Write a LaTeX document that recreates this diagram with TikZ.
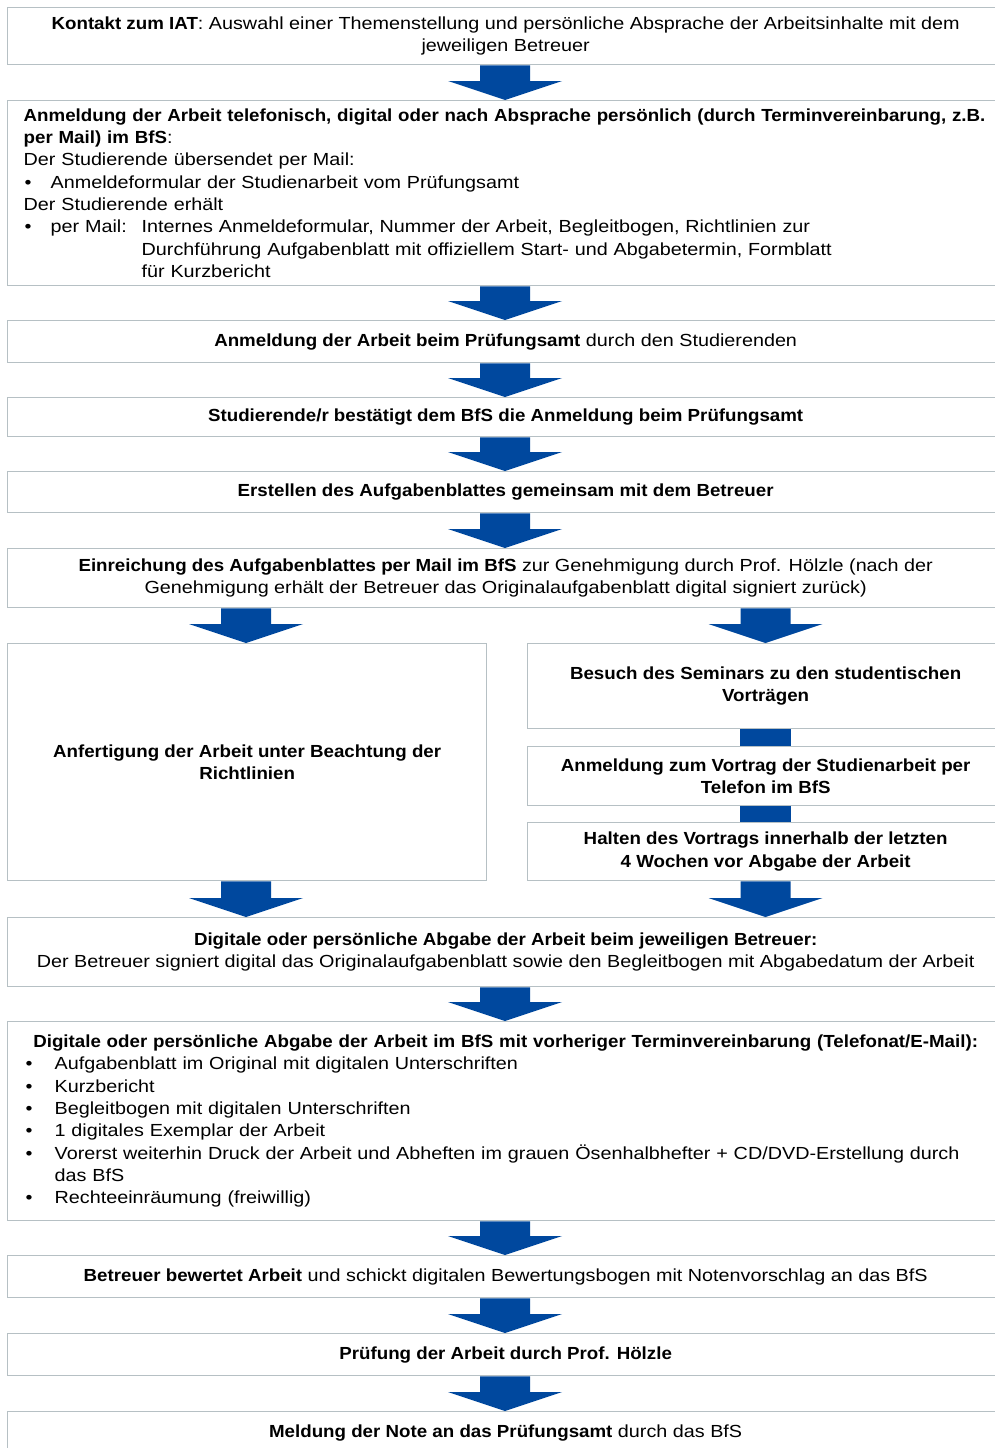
\documentclass[tikz,border=0pt]{standalone}
\usepackage{fontspec}
\setmainfont{Liberation Sans}[FakeStretch=1.13, BoldFeatures={FakeStretch=1.07}]
\usetikzlibrary{calc}
\definecolor{arrowblue}{RGB}{0,72,158}
\definecolor{boxline}{RGB}{182,192,196}
\newcommand\bul{\makebox[27pt][l]{\hspace{1pt}•}}
\newcommand\bulb{\makebox[31pt][l]{\hspace{2pt}•}}
\newcommand\bigarrow[3]{%
  \fill[arrowblue] let \p1=(#1.south), \p2=(#2.north) in
   ({#3pt-25pt},\y1) -- ({#3pt+25pt},\y1) -- ({#3pt+25pt},\y2+19pt) -- ({#3pt+57pt},\y2+19pt)
   -- (#3pt,\y2) -- ({#3pt-57pt},\y2+19pt) -- ({#3pt-25pt},\y2+19pt) -- cycle;}
\newcommand\shaft[3]{%
  \fill[arrowblue] let \p1=(#1.south), \p2=(#2.north) in
   ({#3pt-25.5pt},\y1) rectangle ({#3pt+25.5pt},\y2);}
\begin{document}
\begin{tikzpicture}[x=1pt,y=-1pt,
  box/.style={draw=boxline, line width=1.3pt, anchor=north west, inner sep=0pt,
    align=center, font=\fontsize{17.5}{22.3}\selectfont},
  lbox/.style={box, align=left, text width=964pt, inner xsep=16pt}]
\clip (0,0) rectangle (995,1448);
\fill[white] (0,0) rectangle (995,1448);

\node[box, minimum width=996pt, minimum height=57pt] (b1) at (7,7)
 {\textbf{Kontakt zum IAT}: Auswahl einer Themenstellung und persönliche Absprache der Arbeitsinhalte mit dem\\jeweiligen Betreuer};

\node[lbox, minimum width=996pt, minimum height=185pt] (b2) at (7,100)
 {\textbf{Anmeldung der Arbeit telefonisch, digital oder nach Absprache persönlich (durch Terminvereinbarung, z.B.}\\
  \textbf{per Mail) im BfS}:\\
  Der Studierende übersendet per Mail:\\
  \bul Anmeldeformular der Studienarbeit vom Prüfungsamt\\
  Der Studierende erhält\\
  \bul\makebox[91pt][l]{per Mail:}Internes Anmeldeformular, Nummer der Arbeit, Begleitbogen, Richtlinien zur\\
  \hspace*{118pt}Durchführung Aufgabenblatt mit offiziellem Start- und Abgabetermin, Formblatt\\
  \hspace*{118pt}für Kurzbericht};

\node[box, minimum width=996pt, minimum height=42pt] (b3) at (7,320)
 {\textbf{Anmeldung der Arbeit beim Prüfungsamt} durch den Studierenden};

\node[box, minimum width=996pt, minimum height=39pt] (b4) at (7,397)
 {\textbf{Studierende/r bestätigt dem BfS die Anmeldung beim Prüfungsamt}};

\node[box, minimum width=996pt, minimum height=41pt] (b5) at (7,471)
 {\textbf{Erstellen des Aufgabenblattes gemeinsam mit dem Betreuer}};

\node[box, minimum width=996pt, minimum height=59pt] (b6) at (7,548)
 {\textbf{Einreichung des Aufgabenblattes per Mail im BfS} zur Genehmigung durch Prof. Hölzle (nach der\\Genehmigung erhält der Betreuer das Originalaufgabenblatt digital signiert zurück)};

\node[box, minimum width=479pt, minimum height=237pt] (bl) at (7,643)
 {\textbf{Anfertigung der Arbeit unter Beachtung der}\\\textbf{Richtlinien}};

\node[box, minimum width=476pt, minimum height=85pt] (br1) at (527,643)
 {\textbf{Besuch des Seminars zu den studentischen}\\\textbf{Vorträgen}};

\node[box, minimum width=476pt, minimum height=59pt] (br2) at (527,746)
 {\textbf{Anmeldung zum Vortrag der Studienarbeit per}\\\textbf{Telefon im BfS}};

\node[box, minimum width=476pt, minimum height=58pt] (br3) at (527,822)
 {\textbf{Halten des Vortrags innerhalb der letzten}\\\textbf{4 Wochen vor Abgabe der Arbeit}};

\node[box, minimum width=996pt, minimum height=69pt] (b7) at (7,917)
 {\textbf{Digitale oder persönliche Abgabe der Arbeit beim jeweiligen Betreuer:}\\Der Betreuer signiert digital das Originalaufgabenblatt sowie den Begleitbogen mit Abgabedatum der Arbeit};

\node[lbox, minimum width=996pt, minimum height=199pt] (b8) at (7,1021)
 {\makebox[964pt][c]{\textbf{Digitale oder persönliche Abgabe der Arbeit im BfS mit vorheriger Terminvereinbarung (Telefonat/E-Mail):}}\\
  \bulb Aufgabenblatt im Original mit digitalen Unterschriften\\
  \bulb Kurzbericht\\
  \bulb Begleitbogen mit digitalen Unterschriften\\
  \bulb 1 digitales Exemplar der Arbeit\\
  \bulb Vorerst weiterhin Druck der Arbeit und Abheften im grauen Ösenhalbhefter + CD/DVD-Erstellung durch\\
  \hspace*{31pt}das BfS\\
  \bulb Rechteeinräumung (freiwillig)};

\node[box, minimum width=996pt, minimum height=42pt] (b9) at (7,1255)
 {\textbf{Betreuer bewertet Arbeit} und schickt digitalen Bewertungsbogen mit Notenvorschlag an das BfS};

\node[box, minimum width=996pt, minimum height=42pt] (b10) at (7,1333)
 {\textbf{Prüfung der Arbeit durch Prof. Hölzle}};

\node[box, minimum width=996pt, minimum height=42pt] (b11) at (7,1411)
 {\textbf{Meldung der Note an das Prüfungsamt} durch das BfS};

\bigarrow{b1}{b2}{505}
\bigarrow{b2}{b3}{505}
\bigarrow{b3}{b4}{505}
\bigarrow{b4}{b5}{505}
\bigarrow{b5}{b6}{505}
\bigarrow{b6}{bl}{246}
\bigarrow{b6}{br1}{765.5}
\shaft{br1}{br2}{765.5}
\shaft{br2}{br3}{765.5}
\bigarrow{bl}{b7}{246}
\bigarrow{br3}{b7}{765.5}
\bigarrow{b7}{b8}{505}
\bigarrow{b8}{b9}{505}
\bigarrow{b9}{b10}{505}
\bigarrow{b10}{b11}{505}
\end{tikzpicture}
\end{document}
